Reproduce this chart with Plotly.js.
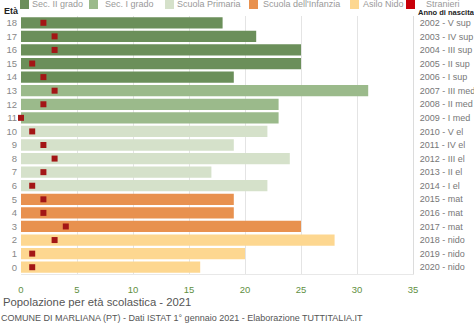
<!DOCTYPE html>
<html><head><meta charset="utf-8">
<script src="https://cdn.plot.ly/plotly-3.0.1.min.js"></script>
<style>html,body{margin:0;padding:0;background:#fff}#c{width:474px;height:326px}</style>
</head><body><div id="c"></div>
<script>
const ages = [0,1,2,3,4,5,6,7,8,9,10,11,12,13,14,15,16,17,18];
const totals = [16,20,28,25,19,19,22,17,24,19,22,23,23,31,19,25,25,21,18];
const stranieri = [1,1,3,4,2,2,1,2,3,2,1,0,2,3,2,1,3,3,2];
const birthLabels = ["2020 - nido","2019 - nido","2018 - nido","2017 - mat","2016 - mat","2015 - mat","2014 - I el","2013 - II el","2012 - III el","2011 - IV el","2010 - V el","2009 - I med","2008 - II med","2007 - III med","2006 - I sup","2005 - II sup","2004 - III sup","2003 - IV sup","2002 - V sup"];
const groupNames = ["Sec. II grado","Sec. I grado","Scuola Primaria","Scuola dell'Infanzia","Asilo Nido"];
const groupFrom = [14,11,6,3,0];
const groupTo = [18,13,10,5,2];
const groupColors = ["#6b8f5a","#9bba8b","#d5e1ca","#e8914f","#fdd790"];
const strColor = "#a31616";
const legendSquareColor = ["#6b8f5a","#9bba8b","#d5e1ca","#e8914f","#fdd790","#c8000a"];

const traces = groupNames.map((n,i) => {
  const ys = ages.filter(a => a >= groupFrom[i] && a <= groupTo[i]);
  return {type:"bar", orientation:"h", name:n, y:ys, x:ys.map(a => totals[ages.indexOf(a)]),
    marker:{color:groupColors[i], line:{width:0}}, showlegend:false};
});
traces.push({type:"scatter", mode:"markers", name:"Stranieri", y:ages, x:stranieri,
  marker:{symbol:"square", size:6, color:strColor}, cliponaxis:false, showlegend:false});
traces.push({type:"scatter", mode:"markers", y:ages, x:totals, yaxis:"y2", showlegend:false,
  marker:{opacity:0}, hoverinfo:"skip"});

// plot area pixels: x 21..413, y 16..274
const PL=21, PW=392, PT=16, PH=258;
const px = p => (p-PL)/PW;
const py = p => (PT+PH-p)/PH;
const legNames = groupNames.concat(["Stranieri"]);
const sqX = [20,89,165,249,350,406];
const txX = [30,103,175,261,361,424];
const shapes = legNames.map((n,i) => ({type:"rect", xref:"paper", yref:"paper",
  x0:px(sqX[i]), x1:px(sqX[i]+9), y0:py(9), y1:py(-2), fillcolor:legendSquareColor[i], line:{width:0}, layer:"above"}));
const annotations = legNames.map((n,i) => ({xref:"paper", yref:"paper", x:px(txX[i]), y:py(4),
  xanchor:"left", yanchor:"middle", showarrow:false, text:n, font:{size:9, color:"#999"}}));
annotations.push(
  {xref:"paper", yref:"paper", x:px(2), y:py(11), xanchor:"left", yanchor:"middle", showarrow:false,
    text:"<b>Età</b>", font:{size:9, color:"#222"}},
  {xref:"paper", yref:"paper", x:px(416), y:py(13), xanchor:"left", yanchor:"middle", showarrow:false,
    text:"<b>Anno di nascita</b>", font:{size:7.5, color:"#222"}},
  {xref:"paper", yref:"paper", x:px(1), y:py(302), xanchor:"left", yanchor:"middle", showarrow:false,
    text:"Popolazione per età scolastica - 2021", font:{size:11.3, color:"#555"}},
  {xref:"paper", yref:"paper", x:px(-1), y:py(318), xanchor:"left", yanchor:"middle", showarrow:false,
    text:"COMUNE DI MARLIANA (PT) - Dati ISTAT 1° gennaio 2021 - Elaborazione TUTTITALIA.IT", font:{size:9, color:"#555"}}
);

const layout = {
  width:474, height:326,
  margin:{l:PL, r:474-PL-PW, t:PT, b:326-PT-PH, autoexpand:false},
  paper_bgcolor:"#fff", plot_bgcolor:"#fff",
  font:{family:"Liberation Sans, Arial, sans-serif", size:9, color:"#777"},
  barmode:"overlay", bargap:0.17,
  showlegend:false,
  xaxis:{range:[0,35], tickvals:[0,5,10,15,20,25,30,35], showgrid:true, gridcolor:"#e4e4e4",
    zeroline:false, showline:true, linecolor:"#e8e8e8", ticks:"", tickfont:{color:"#5f8f3f", size:9.5},
    ticklabelstandoff:7, automargin:false},
  yaxis:{range:[-0.5,18.5], tickvals:ages, ticktext:ages.map(String), showgrid:false, zeroline:false,
    ticks:"", tickfont:{color:"#888", size:9.5}, ticklabelstandoff:3, automargin:false},
  yaxis2:{overlaying:"y", side:"right", range:[-0.5,18.5], tickvals:ages, ticktext:birthLabels,
    showgrid:false, zeroline:false, showline:true, linecolor:"#dcdcdc", ticks:"", tickfont:{color:"#777", size:9},
    ticklabelstandoff:4, automargin:false},
  shapes:shapes,
  annotations:annotations
};
Plotly.newPlot("c", traces, layout, {displayModeBar:false, staticPlot:true});
</script></body></html>
